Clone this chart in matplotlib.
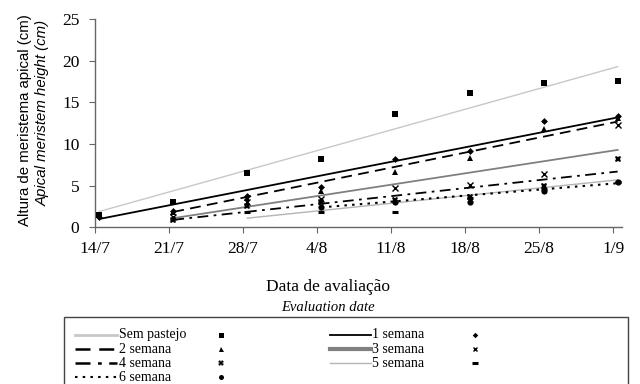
import numpy as np
import matplotlib.pyplot as plt
from matplotlib.lines import Line2D
from matplotlib.patches import Rectangle

dates = ["14/7", "21/7", "28/7", "4/8", "11/8", "18/8", "25/8", "1/9"]
nan = np.nan

# observed apical meristem height (cm)
sem_pastejo = [1.5, 3.0, 6.5, 8.2, 13.6, 16.1, 17.3, 17.6]
semana_1 = [1.3, 2.0, 3.8, 4.8, 8.2, 9.2, 12.8, 13.4]
semana_2 = [nan, 1.8, 3.5, 4.4, 6.6, 8.3, 11.8, 13.1]
semana_3 = [nan, 1.2, 3.0, 3.4, 4.7, 5.1, 6.4, 12.3]
semana_4 = [nan, 0.9, 2.6, 3.0, 3.3, 3.7, 5.0, 8.2]
semana_5 = [nan, nan, 1.9, 1.8, 1.8, 3.5, 4.6, 5.5]
semana_6 = [nan, nan, nan, 2.5, 3.0, 3.0, 4.4, 5.4]

labels = ["Sem pastejo", "1 semana", "2 semana", "3 semana",
          "4 semana", "5 semana", "6 semana"]
series = [sem_pastejo, semana_1, semana_2, semana_3,
          semana_4, semana_5, semana_6]

# linear trend lines: first date index, value there, value at 1/9
fit_start_idx = [0, 0, 1, 1, 1, 2, 3]
fit_start = [1.9, 1.0, 1.85, 1.1, 0.9, 1.1, 2.4]
fit_end = [19.3, 13.2, 12.7, 9.3, 6.7, 5.7, 5.3]

line_styles = [
    dict(color="#c8c8c8", lw=1.0, ls="-"),
    dict(color="black", lw=1.3, ls="-"),
    dict(color="black", lw=1.3, ls=(0, (6, 3.5))),
    dict(color="#808080", lw=1.3, ls="-"),
    dict(color="black", lw=1.3, ls=(0, (6, 3, 1.5, 3))),
    dict(color="#b4b4b4", lw=1.0, ls="-"),
    dict(color="black", lw=1.5, ls=(0, (1.2, 2.5))),
]
leg_lw = [2.0, 1.3, 1.8, 3.0, 1.8, 1.0, 1.5]
markers = [
    dict(marker="s", ms=4.5, mew=0),
    dict(marker="D", ms=3.5, mew=0),
    dict(marker="^", ms=4.5, mew=0),
    dict(marker="x", ms=4, mew=1.0),
    dict(marker="X", ms=5, mew=0),
    dict(marker="_", ms=5, mew=2.2),
    dict(marker="o", ms=4.5, mew=0),
]

serif = "Liberation Serif"
sans = "Liberation Sans"
x_off = 0.06

fig = plt.figure(figsize=(6.4, 3.84), dpi=100)
ax = fig.add_axes([0.148, 0.408, 0.824, 0.542])

x = np.arange(len(dates))
for i, y in enumerate(series):
    st = line_styles[i]
    x0 = fit_start_idx[i] + x_off
    x1 = len(dates) - 1 + x_off
    ax.plot([x0, x1], [fit_start[i], fit_end[i]], color=st["color"],
            lw=st["lw"], ls=st["ls"], zorder=2)
for i, y in enumerate(series):
    ax.plot(x + x_off, y, ls="none", color="black", zorder=3, **markers[i])

ax.set_xlim(0, 7.12)
ax.set_ylim(0, 25)
ax.set_yticks(range(0, 26, 5))
ax.set_xticks(x)
ax.set_xticklabels(dates)
for s in ["top", "right"]:
    ax.spines[s].set_visible(False)
for s in ["left", "bottom"]:
    ax.spines[s].set_color("#666666")
    ax.spines[s].set_linewidth(1.0)
ax.tick_params(axis="both", direction="out", color="#666666", labelsize=12.5)
ax.tick_params(axis="y", length=4.5, pad=6.5)
ax.tick_params(axis="x", length=4, pad=6)
for t in ax.get_xticklabels() + ax.get_yticklabels():
    t.set_fontfamily(serif)

fig.text(0.039, 0.687, "Altura de meristema apical (cm)", rotation=90,
         ha="center", va="center", fontsize=10.8, family=sans)
fig.text(0.067, 0.707, "Apical meristem height (cm)", rotation=90,
         ha="center", va="center", fontsize=10.8, family=sans, style="italic")
fig.text(0.512, 0.253, "Data de avaliação", ha="center", va="center",
         fontsize=12.5, family=serif)
fig.text(0.512, 0.198, "Evaluation date", ha="center", va="center",
         fontsize=10.5, family=serif, style="italic")

# custom legend box
fig.patches.append(Rectangle((0.100, -0.02), 0.882, 0.195, transform=fig.transFigure,
                             fill=False, edgecolor="#444444", lw=1.0))
rows = [0.128, 0.091, 0.054, 0.017]
cols = [(0.117, 0.183, 0.186, 0.346), (0.516, 0.579, 0.582, 0.742)]
for k, lab in enumerate(labels):
    c = cols[k % 2]
    yy = rows[k // 2]
    st = line_styles[k]
    fig.lines.append(Line2D([c[0], c[1]], [yy, yy], transform=fig.transFigure,
                            color=st["color"], lw=leg_lw[k], ls=st["ls"]))
    fig.text(c[2], yy, lab, ha="left", va="center", fontsize=10,
             family=serif)
    m = dict(markers[k])
    m["ms"] = m["ms"] * 0.8
    fig.lines.append(Line2D([c[3]], [yy], transform=fig.transFigure,
                            ls="none", color="black", **m))

fig.savefig("out.png", dpi=100)
